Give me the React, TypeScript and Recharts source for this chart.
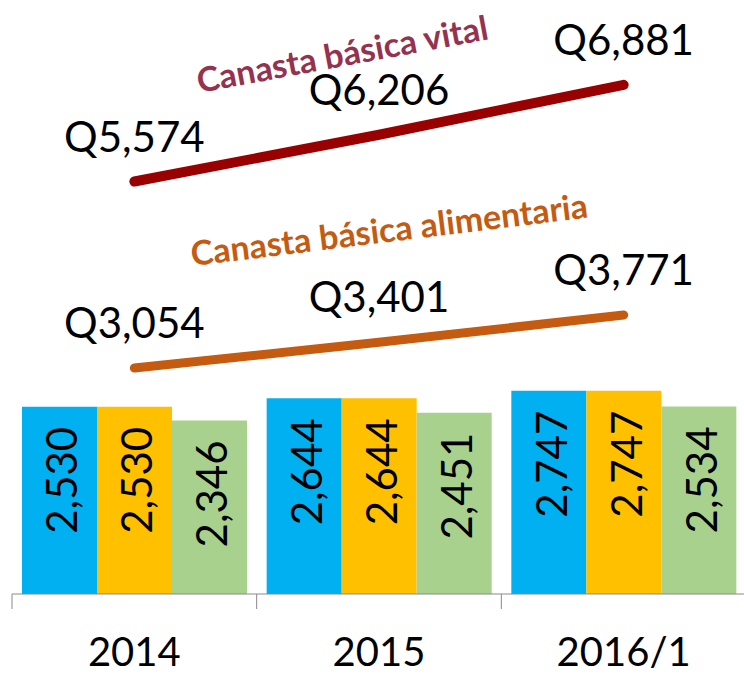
import React from "react";
import { ComposedChart, Bar, Line, XAxis, YAxis, LabelList } from "recharts";

// values
const categories = ["2014", "2015", "2016/1"];
const salarioBlue = [2530, 2644, 2747];
const salarioYellow = [2530, 2644, 2747];
const salarioGreen = [2346, 2451, 2534];
const canastaVital = [5574, 6206, 6881];
const canastaAlimentaria = [3054, 3401, 3771];

const data = categories.map((cat, i) => ({
  cat,
  blue: salarioBlue[i],
  yellow: salarioYellow[i],
  green: salarioGreen[i],
  vital: canastaVital[i],
  alimentaria: canastaAlimentaria[i],
}));

const FONT = "Lato, 'Open Sans', sans-serif";
const fmt = (v: number) => v.toLocaleString("en-US");

const BarValue = (props: any) => {
  const { x, y, width, value } = props;
  const cx = x + width / 2 + 2;
  const ty = y + 20;
  return (
    <text
      x={cx}
      y={ty}
      transform={`rotate(-90, ${cx}, ${ty})`}
      textAnchor="end"
      dominantBaseline="central"
      fontFamily={FONT}
      fontSize={42}
      fill="#000"
    >
      {fmt(value)}
    </text>
  );
};

const LineValue = (props: any) => {
  const { x, y, value } = props;
  return (
    <text
      x={x}
      y={y - 46}
      textAnchor="middle"
      dominantBaseline="central"
      fontFamily={FONT}
      fontSize={42}
      fill="#000"
    >
      Q{fmt(value)}
    </text>
  );
};

// series name written along the line, anchored on the middle point
const seriesName = (name: string, color: string, dx: number, dy: number, angle: number) =>
  (props: any) => {
    const { x, y, index } = props;
    if (index !== 1) return null;
    const cx = x + dx;
    const cy = y + dy;
    return (
      <text
        x={cx}
        y={cy}
        transform={`rotate(${angle}, ${cx}, ${cy})`}
        textAnchor="middle"
        dominantBaseline="central"
        fontFamily={FONT}
        fontWeight="bold"
        fontSize={34}
        fill={color}
      >
        {name}
      </text>
    );
  };

const CategoryTick = (props: any) => {
  const { x, y, payload, index } = props;
  const half = payload.offset || 0;
  return (
    <g>
      <line x1={x - half} x2={x - half} y1={y} y2={y + 15} stroke="#898989" strokeWidth={1} />
      {index === categories.length - 1 && (
        <line x1={x + half} x2={x + half} y1={y} y2={y + 15} stroke="#898989" strokeWidth={1} />
      )}
      <text x={x} y={y + 72} textAnchor="middle" fontFamily={FONT} fontSize={40} fill="#000">
        {payload.value}
      </text>
    </g>
  );
};

export default function App() {
  return (
    <div style={{ position: "absolute", left: 0, top: 0, width: 744, height: 675, overflow: "hidden", background: "#fff" }}>
      <ComposedChart
        width={750}
        height={675}
        data={data}
        margin={{ top: 2, right: 4, left: 12, bottom: 0 }}
        barCategoryGap={10}
        barGap={0}
      >
        <XAxis
          dataKey="cat"
          height={81}
          axisLine={{ stroke: "#898989" }}
          tickLine={false}
          tickSize={0}
          tickMargin={0}
          tick={<CategoryTick />}
          interval={0}
        />
        <YAxis hide domain={[0, 8000]} />
        <Bar dataKey="blue" fill="#00B0F0" isAnimationActive={false}>
          <LabelList dataKey="blue" content={<BarValue />} />
        </Bar>
        <Bar dataKey="yellow" fill="#FFC000" isAnimationActive={false}>
          <LabelList dataKey="yellow" content={<BarValue />} />
        </Bar>
        <Bar dataKey="green" fill="#A9D18E" isAnimationActive={false}>
          <LabelList dataKey="green" content={<BarValue />} />
        </Bar>
        <Line
          dataKey="alimentaria"
          stroke="#C55A11"
          strokeWidth={9}
          strokeLinecap="round"
          dot={false}
          activeDot={false}
          isAnimationActive={false}
        >
          <LabelList dataKey="alimentaria" content={<LineValue />} />
          <LabelList
            dataKey="alimentaria"
            content={seriesName("Canasta básica alimentaria", "#C55A11", 10, -114, -7)}
          />
        </Line>
        <Line
          dataKey="vital"
          stroke="#990000"
          strokeWidth={10}
          strokeLinecap="round"
          dot={false}
          activeDot={false}
          isAnimationActive={false}
        >
          <LabelList dataKey="vital" content={<LineValue />} />
          <LabelList
            dataKey="vital"
            content={seriesName("Canasta básica vital", "#943250", -37, -82, -10.5)}
          />
        </Line>
      </ComposedChart>
    </div>
  );
}
